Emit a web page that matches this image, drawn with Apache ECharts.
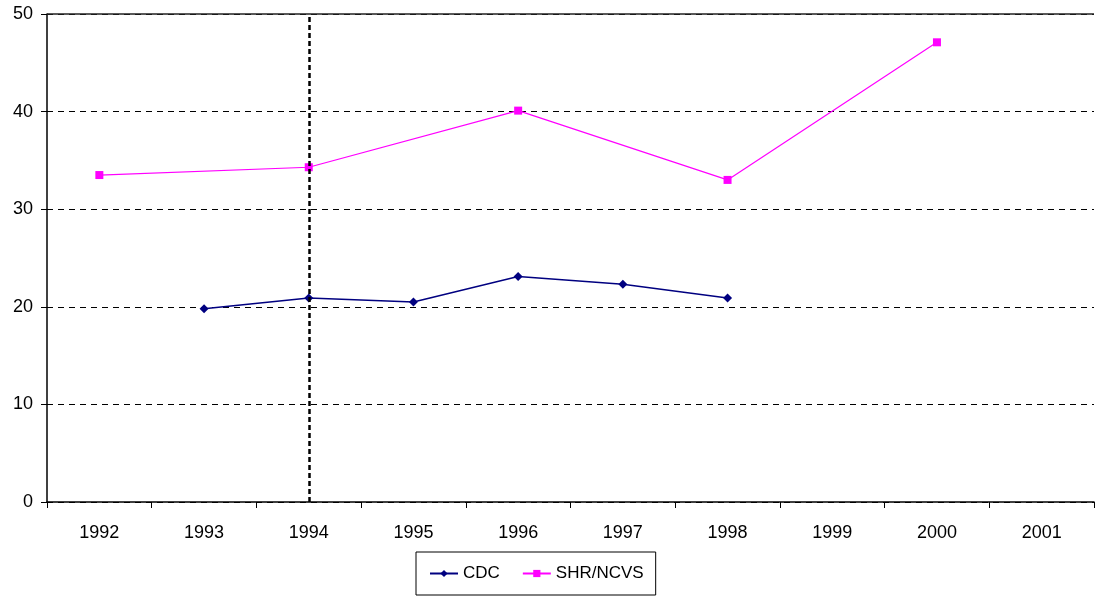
<!DOCTYPE html>
<html>
<head>
<meta charset="utf-8">
<script src="https://cdn.jsdelivr.net/npm/echarts@6/dist/echarts.min.js"></script>
<style>
  html, body { margin: 0; padding: 0; background: #fff; }
  #main { width: 1095px; height: 597px; }
</style>
</head>
<body>
<div id="main"></div>
<script>
const years = ["1992", "1993", "1994", "1995", "1996", "1997", "1998", "1999", "2000", "2001"];
const cdc = [null, 19.8, 20.9, 20.5, 23.1, 22.3, 20.9, null, null, null];
const shrNcvs = [33.5, null, 34.3, null, 40.1, null, 33.0, null, 47.1, null];
const yTicks = [0, 10, 20, 30, 40, 50];
const markYear = "1994";

const chart = echarts.init(document.getElementById("main"));
const font = "Liberation Sans, Arial, sans-serif";

const option = {
  animation: false,
  backgroundColor: "#fff",
  grid: { left: 47, right: 1, top: 14, bottom: 95 },
  legend: {
    left: 416,
    top: 552,
    padding: [13, 12, 13, 13],
    borderColor: "#000",
    borderWidth: 1,
    backgroundColor: "#fff",
    itemWidth: 28,
    itemHeight: 9,
    itemGap: 22,
    textStyle: { fontFamily: font, fontSize: 17, color: "#000" },
    data: ["CDC", "SHR/NCVS"]
  },
  xAxis: {
    type: "category",
    data: years,
    boundaryGap: true,
    axisLine: { lineStyle: { color: "#000", width: 1.5 } },
    axisTick: { show: true, length: 6, alignWithLabel: false, lineStyle: { color: "#000" } },
    axisLabel: { margin: 22, color: "#000", fontFamily: font, fontSize: 18 },
    splitLine: { show: false }
  },
  yAxis: {
    type: "value",
    min: yTicks[0],
    max: yTicks[yTicks.length - 1],
    interval: 10,
    axisLine: { show: true, lineStyle: { color: "#000", width: 1.5 } },
    axisTick: { show: true, length: 6, lineStyle: { color: "#000" } },
    axisLabel: { margin: 14, color: "#000", fontFamily: font, fontSize: 18 },
    splitLine: { show: true, lineStyle: { color: "#000", type: [6, 5], width: 1 } }
  },
  series: [
    {
      name: "CDC",
      type: "line",
      data: cdc,
      connectNulls: true,
      symbol: "diamond",
      symbolSize: 9,
      itemStyle: { color: "#000080" },
      lineStyle: { color: "#000080", width: 1.5 },
      z: 3,
      markLine: {
        silent: true,
        symbol: "none",
        label: { show: false },
        data: [
          { xAxis: markYear, lineStyle: { color: "#000", type: [5, 3], width: 2.5 } },
          { yAxis: 50, lineStyle: { color: "#222", type: "solid", width: 1.5 } }
        ]
      }
    },
    {
      name: "SHR/NCVS",
      type: "line",
      data: shrNcvs,
      connectNulls: true,
      symbol: "rect",
      symbolSize: 8,
      itemStyle: { color: "#ff00ff" },
      lineStyle: { color: "#ff00ff", width: 1.2 },
      z: 3
    }
  ]
};

chart.setOption(option);
</script>
</body>
</html>
